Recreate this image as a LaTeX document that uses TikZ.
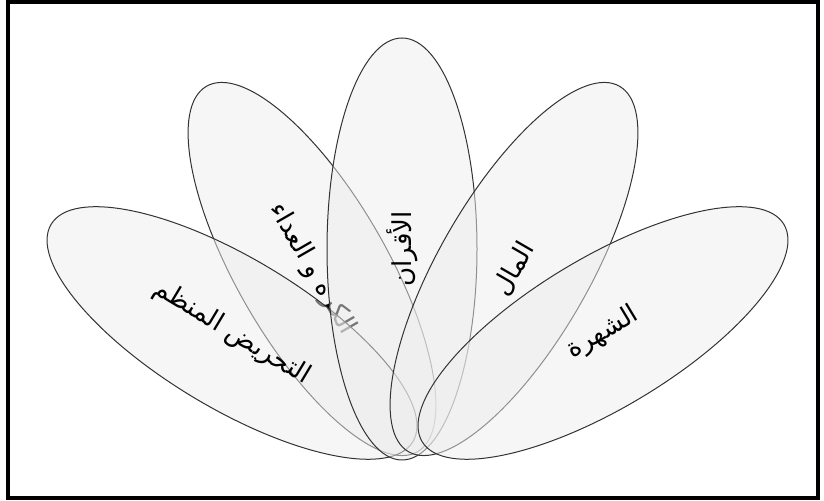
\documentclass[tikz,border=0pt]{standalone}
\usepackage{fontspec}
\usepackage{tikz}
\usetikzlibrary{shapes.geometric, positioning, calc}
\TeXXeTstate=1
\newfontfamily\arabicfont[Script=Arabic]{DejaVu Sans}

\begin{document}
\begin{tikzpicture}[
        x=0.5pt, y=0.5pt,
        petal/.style={draw=black!80, line width=0.5pt, ellipse, inner sep=0pt,
            minimum width=211pt, minimum height=75pt,
            fill=black!7, fill opacity=0.5, text opacity=1,
            font=\arabicfont\fontsize{13}{15}\selectfont}
    ]
        \useasboundingbox (0,0) rectangle (824,501);
        % outer frame
        \draw[line width=2pt] (8,3) rectangle (818,499);

        % petals (later ones lie over earlier ones)
        \node[petal, rotate=-60] (hatred) at (312,232) {\beginR الكره و العداء\endR};
        \node[petal, rotate=-31] (incite) at (232,168) {\beginR التحريض المنظم\endR};
        \node[petal, rotate=90] (peers) at (402,252) {\beginR الأقران\endR};
        \node[petal, rotate=60] (money) at (514,232) {\beginR المال\endR};
        \node[petal, rotate=31] (fame) at (603,168) {\beginR الشهرة\endR};
\end{tikzpicture}
\end{document}
